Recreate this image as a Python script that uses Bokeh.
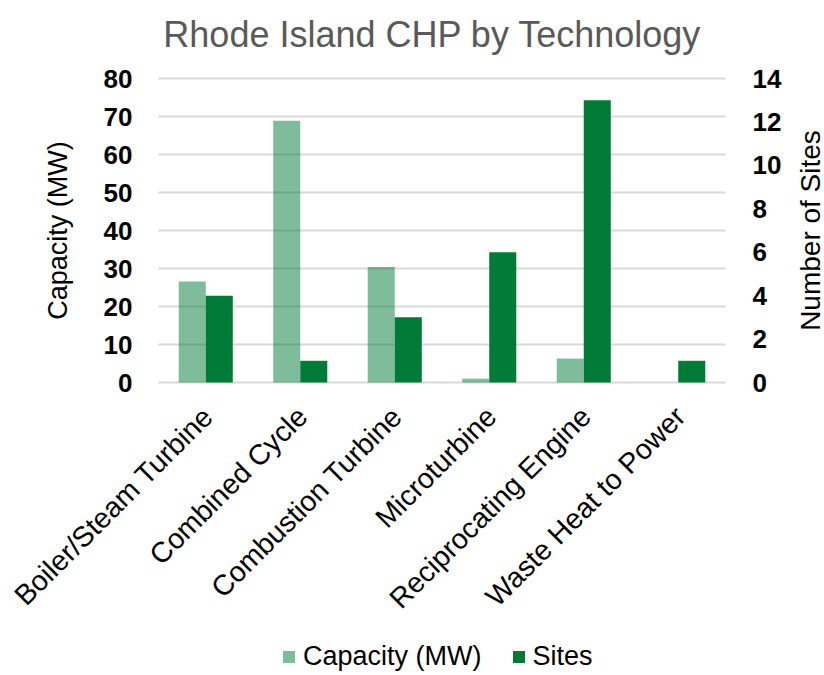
import math
from bokeh.plotting import figure
from bokeh.models import ColumnDataSource, Range1d, Legend, LegendItem
from bokeh.core.properties import value
from bokeh.transform import dodge
from bokeh.embed import file_html
from bokeh.resources import INLINE

# ---- data ----
technologies = ["Boiler/Steam Turbine", "Combined Cycle", "Combustion Turbine",
                "Microturbine", "Reciprocating Engine", "Waste Heat to Power"]
capacity_mw = [26.6, 68.9, 30.4, 1.0, 6.3, 0.0]
sites = [4, 1, 3, 6, 13, 1]
capacity_ticks = [0, 10, 20, 30, 40, 50, 60, 70, 80]
sites_ticks = [0, 2, 4, 6, 8, 10, 12, 14]
chart_title = "Rhode Island CHP by Technology"
left_axis_title = "Capacity (MW)"
right_axis_title = "Number of Sites"

FONT = "Liberation Sans"
GREEN = "#007A37"
GRID = "#D9D9D9"

# ---- layout constants (pixels) ----
W, H = 824, 675
PLOT_TOP, PLOT_BOTTOM = 78, 382          # where the top / zero of the value axes sit
PLOT_LEFT, PLOT_RIGHT = 158, 725
n = len(technologies)
CAT_W = (PLOT_RIGHT - PLOT_LEFT) / n
CAT0 = PLOT_LEFT + CAT_W / 2


def px_to_x(px):
    return (px - CAT0) / CAT_W


cap_max, sites_max = capacity_ticks[-1], sites_ticks[-1]
px_cap = (PLOT_BOTTOM - PLOT_TOP) / cap_max
px_sites = (PLOT_BOTTOM - PLOT_TOP) / sites_max
cap_range = Range1d(-(H - PLOT_BOTTOM) / px_cap, cap_max + PLOT_TOP / px_cap)
sites_range = Range1d(-(H - PLOT_BOTTOM) / px_sites, sites_max + PLOT_TOP / px_sites)

pos = list(range(n))
src = ColumnDataSource(dict(pos=pos, tech=technologies, cap=capacity_mw, sites=sites))
cap_tick_src = ColumnDataSource(dict(y=capacity_ticks, text=[str(t) for t in capacity_ticks]))
site_tick_src = ColumnDataSource(dict(y=sites_ticks, text=[str(t) for t in sites_ticks]))

p = figure(x_range=Range1d(px_to_x(0), px_to_x(W)), y_range=cap_range,
           frame_width=W, frame_height=H,
           min_border_left=0, min_border_right=0, min_border_top=0, min_border_bottom=0,
           x_axis_location=None, y_axis_location=None,
           output_backend="svg", toolbar_location=None)
try:
    p.title_location = None
except Exception:
    pass
p.extra_y_ranges = {"sites": sites_range}
p.outline_line_color = None
p.background_fill_color = "white"
p.border_fill_color = "white"
p.xgrid.visible = False
p.ygrid.visible = False

# horizontal gridlines over the category span
p.segment(x0=-0.5, x1=n - 0.5, y0="y", y1="y", source=cap_tick_src,
          line_color=GRID, line_width=2)

# bars
cap_r = p.vbar(x=dodge("pos", -0.143), top="cap", width=0.286,
               source=src, fill_color=GREEN, fill_alpha=0.5, line_color=None)
site_r = p.vbar(x=dodge("pos", 0.143), top="sites", width=0.286,
                source=src, fill_color=GREEN, line_color=None, y_range_name="sites")

# chart title
p.text(x=[px_to_x(432)], y=[cap_max + (PLOT_TOP - 34) / px_cap], text=[chart_title],
       text_align="center", text_baseline="alphabetic",
       text_font=value(FONT), text_font_size=value("36px"), text_color="#595959")

# category labels, rotated 45 degrees
p.text(x=dodge("pos", 0.02), y=-(411 - PLOT_BOTTOM) / px_cap,
       text="tech", source=src, angle=math.pi / 4, text_align="right",
       text_baseline="middle", text_font=value(FONT),
       text_font_size=value("28.5px"), text_color="black")

# left value labels
p.text(x=px_to_x(132), y="y", text="text", source=cap_tick_src,
       text_align="right", text_baseline="middle", text_font=value(FONT),
       text_font_style="bold", text_font_size=value("26px"), text_color="black")

# right value labels
p.text(x=px_to_x(752), y="y", text="text", source=site_tick_src, y_range_name="sites",
       text_align="left", text_baseline="middle", text_font=value(FONT),
       text_font_style="bold", text_font_size=value("26px"), text_color="black")

# axis titles (read bottom to top)
p.text(x=[px_to_x(57)], y=[cap_max / 2], text=[left_axis_title], angle=math.pi / 2,
       text_align="center", text_baseline="middle", text_font=value(FONT),
       text_font_size=value("27px"), text_color="black")
p.text(x=[px_to_x(810)], y=[sites_max / 2], text=[right_axis_title], angle=math.pi / 2,
       y_range_name="sites", text_align="center", text_baseline="middle",
       text_font=value(FONT), text_font_size=value("28px"), text_color="black")

# legend
legend = Legend(items=[LegendItem(label="Capacity (MW)", renderers=[cap_r]),
                       LegendItem(label="Sites", renderers=[site_r])],
                orientation="horizontal", location=(281, 3))
legend.border_line_color = None
legend.background_fill_alpha = 0
legend.glyph_width = 15
legend.glyph_height = 15
legend.label_standoff = 7
legend.spacing = 29
legend.margin = 0
legend.padding = 0
legend.label_text_font = FONT
legend.label_text_font_style = "normal"
legend.label_text_font_size = "27px"
legend.label_text_color = "black"
p.add_layout(legend, "center")

open("out.html", "w").write(file_html(p, INLINE))
